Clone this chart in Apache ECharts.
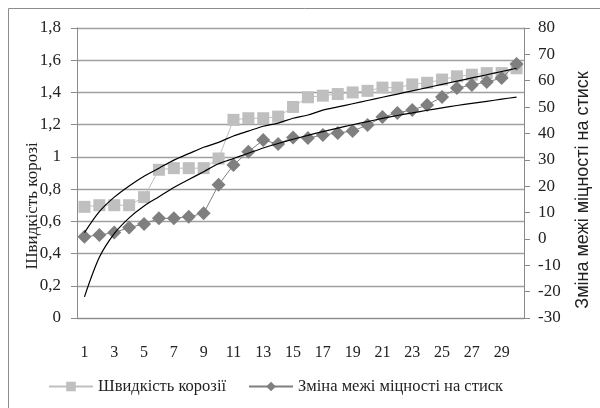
<!DOCTYPE html>
<html>
<head>
<meta charset="utf-8">
<script src="https://cdn.jsdelivr.net/npm/echarts@6/dist/echarts.min.js"></script>
<style>
  html, body { margin: 0; padding: 0; background: #fff; }
  #chart { width: 600px; height: 408px; }
</style>
</head>
<body>
<div id="chart"></div>
<script>
// categories 1..30
const categories = ['1','2','3','4','5','6','7','8','9','10','11','12','13','14','15',
  '16','17','18','19','20','21','22','23','24','25','26','27','28','29','30']

// Швидкість корозії (left axis)
const corrosion = [0.69, 0.70, 0.70, 0.70, 0.75, 0.92, 0.93, 0.93, 0.93, 0.99,
  1.23, 1.24, 1.24, 1.25, 1.31, 1.37, 1.38, 1.39, 1.40, 1.41,
  1.43, 1.43, 1.45, 1.46, 1.48, 1.50, 1.51, 1.52, 1.52, 1.55]

// Зміна межі міцності на стиск (right axis)
const strength = [0.8, 1.5, 2.4, 4.3, 5.7, 7.8, 7.8, 8.4, 9.7, 20.5,
  28.0, 33.1, 37.5, 36.0, 38.5, 38.3, 39.4, 40.2, 40.9, 43.2,
  46.2, 47.8, 48.9, 50.8, 53.8, 57.2, 58.4, 59.5, 61.0, 66.3]

// trend lines
const corrosionTrend = [0.53, 0.66, 0.75, 0.82, 0.88, 0.93, 0.98, 1.02, 1.06, 1.09,
  1.13, 1.16, 1.19, 1.21, 1.24, 1.26, 1.29, 1.31, 1.33, 1.35,
  1.37, 1.39, 1.41, 1.43, 1.45, 1.47, 1.49, 1.51, 1.53, 1.55]
const strengthTrend = [-22, -7, 2, 8, 12.5, 16, 19.5, 22.5, 25.5, 28.5,
  30.5, 32.5, 34.5, 36.2, 37.8, 39.3, 40.7, 42, 43.3, 44.5,
  45.7, 46.8, 47.8, 48.8, 49.7, 50.6, 51.4, 52.2, 53, 53.8]

const serif = '"Liberation Serif", "DejaVu Serif", serif'
const sans = '"Liberation Sans", Arial, sans-serif'
const textColor = '#222'
const axisGray = '#8a8a8a'

const chart = echarts.init(document.getElementById('chart'))
chart.setOption({
  animation: false,
  textStyle: { fontFamily: serif },
  graphic: [{
    type: 'rect',
    shape: { x: 8.5, y: 8.5, width: 600, height: 420 },
    style: { fill: 'none', stroke: '#8c8c8c', lineWidth: 1 },
    silent: true
  }],
  grid: { left: 77, right: 76, top: 28, bottom: 90 },
  legend: {
    data: ['Швидкість корозії', 'Зміна межі міцності на стиск'],
    left: 43,
    top: 373,
    itemWidth: 44,
    itemHeight: 12,
    itemGap: 22,
    textStyle: { fontFamily: serif, fontSize: 16.5, color: textColor }
  },
  xAxis: {
    type: 'category',
    data: categories,
    boundaryGap: true,
    axisLine: { lineStyle: { color: axisGray } },
    axisTick: { interval: 0, length: 6, lineStyle: { color: axisGray } },
    axisLabel: { interval: 1, margin: 27, color: textColor, fontFamily: serif, fontSize: 16 }
  },
  yAxis: [
    {
      type: 'value',
      min: 0,
      max: 1.8,
      interval: 0.2,
      name: 'Швидкість корозі',
      nameLocation: 'middle',
      nameRotate: 90,
      nameGap: 36,
      nameMoveOverlap: false,
      nameTextStyle: { fontFamily: serif, fontSize: 17, color: textColor, padding: [0, 66, 0, 0] },
      axisLine: { show: true, lineStyle: { color: axisGray } },
      axisTick: { show: true, length: 6, lineStyle: { color: axisGray } },
      axisLabel: {
        margin: 16,
        color: textColor,
        fontFamily: serif,
        fontSize: 17,
        formatter: (v) => String(Math.round(v * 10) / 10).replace('.', ',')
      },
      splitLine: { lineStyle: { color: '#a0a0a0', width: 1.3 } }
    },
    {
      type: 'value',
      min: -30,
      max: 80,
      interval: 10,
      position: 'right',
      name: 'Зміна межі міцності на стиск',
      nameLocation: 'middle',
      nameRotate: 90,
      nameGap: 50,
      nameMoveOverlap: false,
      nameTextStyle: { fontFamily: sans, fontSize: 18, color: textColor, padding: [0, 34, 0, 0] },
      axisLine: { show: true, lineStyle: { color: axisGray } },
      axisTick: { show: true, length: 6, lineStyle: { color: axisGray } },
      axisLabel: { margin: 14, color: textColor, fontFamily: serif, fontSize: 17 },
      splitLine: { show: false }
    }
  ],
  series: [
    {
      name: 'Швидкість корозії',
      type: 'line',
      yAxisIndex: 0,
      data: corrosion,
      symbol: 'rect',
      symbolSize: 12,
      showAllSymbol: true,
      itemStyle: { color: '#bfbfbf' },
      lineStyle: { color: '#bfbfbf', width: 1 },
      z: 3
    },
    {
      name: 'Зміна межі міцності на стиск',
      type: 'line',
      yAxisIndex: 1,
      data: strength,
      symbol: 'diamond',
      symbolSize: 14,
      showAllSymbol: true,
      itemStyle: { color: '#7f7f7f' },
      lineStyle: { color: '#7f7f7f', width: 1 },
      z: 4
    },
    {
      name: 'trend1',
      type: 'line',
      yAxisIndex: 0,
      data: corrosionTrend,
      showSymbol: false,
      smooth: 0.3,
      lineStyle: { color: '#000', width: 1.2 },
      z: 5
    },
    {
      name: 'trend2',
      type: 'line',
      yAxisIndex: 1,
      data: strengthTrend,
      showSymbol: false,
      smooth: 0.3,
      lineStyle: { color: '#000', width: 1.2 },
      z: 5
    }
  ]
})
</script>
</body>
</html>
